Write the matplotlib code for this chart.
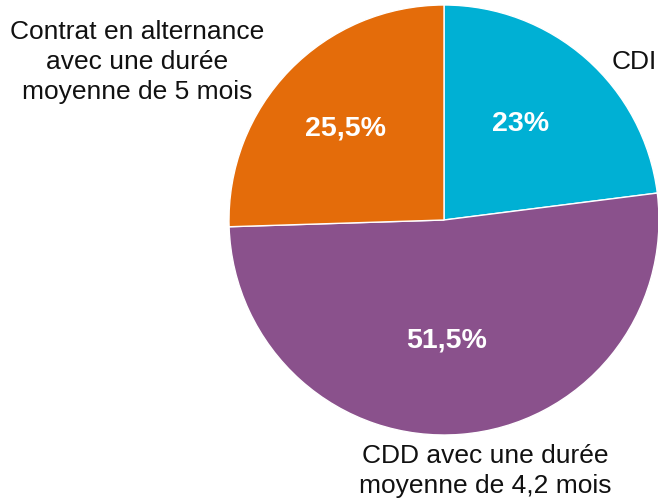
import matplotlib.pyplot as plt

# data
categories = ["CDI", "CDD avec une durée\nmoyenne de 4,2 mois", "Contrat en alternance\navec une durée\nmoyenne de 5 mois"]
shares = [23, 51.5, 25.5]
colors = ["#00B0D4", "#8A518C", "#E46C0A"]

W, H = 658, 502
fig = plt.figure(figsize=(W / 100, H / 100), dpi=100)
plt.rcParams["font.family"] = ["Liberation Sans", "DejaVu Sans"]

def px(x, y):
    return x / W, 1 - y / H

# pie box in pixels: centre (444, 221), radius 215
cx, cy, r = 444, 221, 215
ax = fig.add_axes([(cx - r) / W, 1 - (cy + r) / H, 2 * r / W, 2 * r / H])
ax.pie(shares, colors=colors, startangle=90, counterclock=False, radius=1,
       wedgeprops=dict(edgecolor="white", linewidth=1))
ax.set_xlim(-1, 1)
ax.set_ylim(-1, 1)
ax.set_aspect("equal")
ax.axis("off")

def fmt(v):
    return (f"{v:g}").replace(".", ",") + "%"

# percentage labels
pct_pos = [(521, 124), (447, 341), (345, 129)]
for v, (x, y) in zip(shares, pct_pos):
    fig.text(*px(x, y), fmt(v), color="white", fontsize=20.5, fontweight="bold",
             ha="center", va="center")

# category labels
cat_pos = [(634, 62), (485, 471), (137, 62)]
for c, (x, y) in zip(categories, cat_pos):
    fig.text(*px(x, y), c, color="#111111", fontsize=19, ha="center", va="center",
             linespacing=1.3)

plt.savefig("out.png", dpi=100)
